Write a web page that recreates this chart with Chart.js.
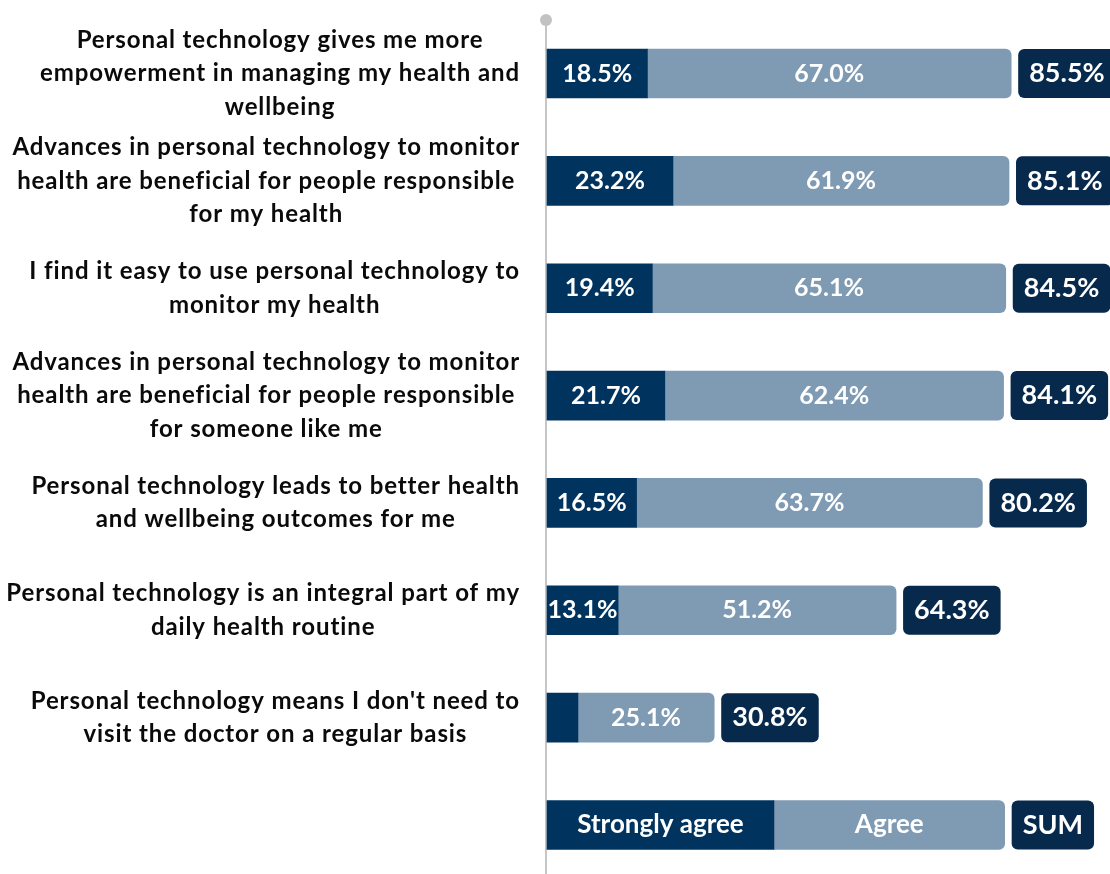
<!DOCTYPE html>
<html>
<head>
<meta charset="utf-8">
<script src="https://cdn.jsdelivr.net/npm/chart.js@4.4.1/dist/chart.umd.min.js"></script>
<style>
  body { margin: 0; background: #fff; }
  #chartBox { width: 1110px; height: 874px; }
</style>
</head>
<body>
<div id="chartBox"><canvas id="techChart" width="1110" height="874"></canvas></div>
<script>
// survey statements, one array entry per wrapped line
const statements = [
    ['Personal technology gives me more', 'empowerment in managing my health and', 'wellbeing'],
    ['Advances in personal technology to monitor', 'health are beneficial for people responsible', 'for my health'],
    ['I find it easy to use personal technology to', 'monitor my health'],
    ['Advances in personal technology to monitor', 'health are beneficial for people responsible', 'for someone like me'],
    ['Personal technology leads to better health', 'and wellbeing outcomes for me'],
    ['Personal technology is an integral part of my', 'daily health routine'],
    ["Personal technology means I don't need to", 'visit the doctor on a regular basis']
];
const stronglyAgree = [18.5, 23.2, 19.4, 21.7, 16.5, 13.1, 5.7];
const agree = [67.0, 61.9, 65.1, 62.4, 63.7, 51.2, 25.1];
const seriesNames = ['Strongly agree', 'Agree'];
const sumName = 'SUM';

// the key row under the statements is drawn as one more stacked bar
const keyLengths = [41.8, 42.5];

const FONT = 'Lato, "Open Sans", sans-serif';
const DARK = '#00345f';
const LIGHT = '#7f9ab3';
const SUM_BOX = '#07294b';
const LABEL_RIGHT = 520;   // right edge of the statement text
const LINE_HEIGHT = 33.5;

function pct(v) {
    return v.toFixed(1) + '%';
}

const axisLine = {
    id: 'axisLine',
    beforeDatasetsDraw(chart) {
        const ctx = chart.ctx;
        const x = chart.chartArea.left - 1;
        ctx.save();
        ctx.strokeStyle = '#c6c6c6';
        ctx.lineWidth = 2;
        ctx.beginPath();
        ctx.moveTo(x, 20);
        ctx.lineTo(x, chart.height);
        ctx.stroke();
        ctx.fillStyle = '#c2c2c2';
        ctx.beginPath();
        ctx.arc(x, 20, 6, 0, Math.PI * 2);
        ctx.fill();
        ctx.restore();
    }
};

const barLabels = {
    id: 'barLabels',
    afterDatasetsDraw(chart) {
        const ctx = chart.ctx;
        const strongBars = chart.getDatasetMeta(0).data;
        const agreeBars = chart.getDatasetMeta(1).data;
        const n = statements.length;
        ctx.save();
        ctx.textBaseline = 'middle';
        ctx.textAlign = 'center';

        strongBars.forEach((bar, i) => {
            const agreeBar = agreeBars[i];
            const isKey = i === n;
            const y = bar.y;

            // text inside the two segments
            ctx.fillStyle = '#fff';
            if (isKey) {
                ctx.font = 'bold 26px ' + FONT;
                ctx.fillText(seriesNames[0], (bar.base + bar.x) / 2, y);
                ctx.fillText(seriesNames[1], (agreeBar.base + agreeBar.x) / 2, y);
            } else {
                ctx.font = 'bold 25px ' + FONT;
                if (stronglyAgree[i] >= 10) {
                    ctx.fillText(pct(stronglyAgree[i]), (bar.base + bar.x) / 2, y);
                }
                ctx.fillText(pct(agree[i]), (agreeBar.base + agreeBar.x) / 2, y);
            }

            // total in a rounded box after the bar
            const sumText = isKey ? sumName : pct(stronglyAgree[i] + agree[i]);
            ctx.font = 'bold 27px ' + FONT;
            const w = ctx.measureText(sumText).width + 22;
            const h = bar.height;
            const x0 = agreeBar.x + 7;
            ctx.fillStyle = SUM_BOX;
            ctx.beginPath();
            ctx.roundRect(x0, y - h / 2, w, h, 6);
            ctx.fill();
            ctx.fillStyle = '#fff';
            ctx.fillText(sumText, x0 + w / 2, y);

            // statement on the left, centred under its widest line
            if (!isKey) {
                const lines = statements[i];
                ctx.font = 'bold 24px ' + FONT;
                ctx.letterSpacing = '0.9px';
                ctx.fillStyle = '#0a0a0a';
                const maxW = Math.max(...lines.map(l => ctx.measureText(l).width));
                const cx = LABEL_RIGHT - maxW / 2;
                lines.forEach((line, j) => {
                    ctx.fillText(line, cx, y + (j - (lines.length - 1) / 2) * LINE_HEIGHT);
                });
                ctx.letterSpacing = '0px';
            }
        });
        ctx.restore();
    }
};

new Chart(document.getElementById('techChart'), {
    type: 'bar',
    data: {
        labels: statements.map(s => s.join(' ')).concat(['']),
        datasets: [
            {
                label: seriesNames[0],
                data: stronglyAgree.concat(keyLengths[0]),
                backgroundColor: DARK,
                barThickness: 49,
                clip: false
            },
            {
                label: seriesNames[1],
                data: agree.concat(keyLengths[1]),
                backgroundColor: LIGHT,
                borderRadius: 6,
                barThickness: 49,
                clip: false
            }
        ]
    },
    options: {
        indexAxis: 'y',
        responsive: false,
        animation: false,
        layout: { padding: { left: 547, right: 0, top: 73.5, bottom: 49 } },
        scales: {
            x: { stacked: true, min: 0, max: 103.7, display: false },
            y: { stacked: true, offset: false, display: false }
        },
        plugins: {
            legend: { display: false },
            tooltip: { enabled: false }
        }
    },
    plugins: [axisLine, barLabels]
});
</script>
</body>
</html>
